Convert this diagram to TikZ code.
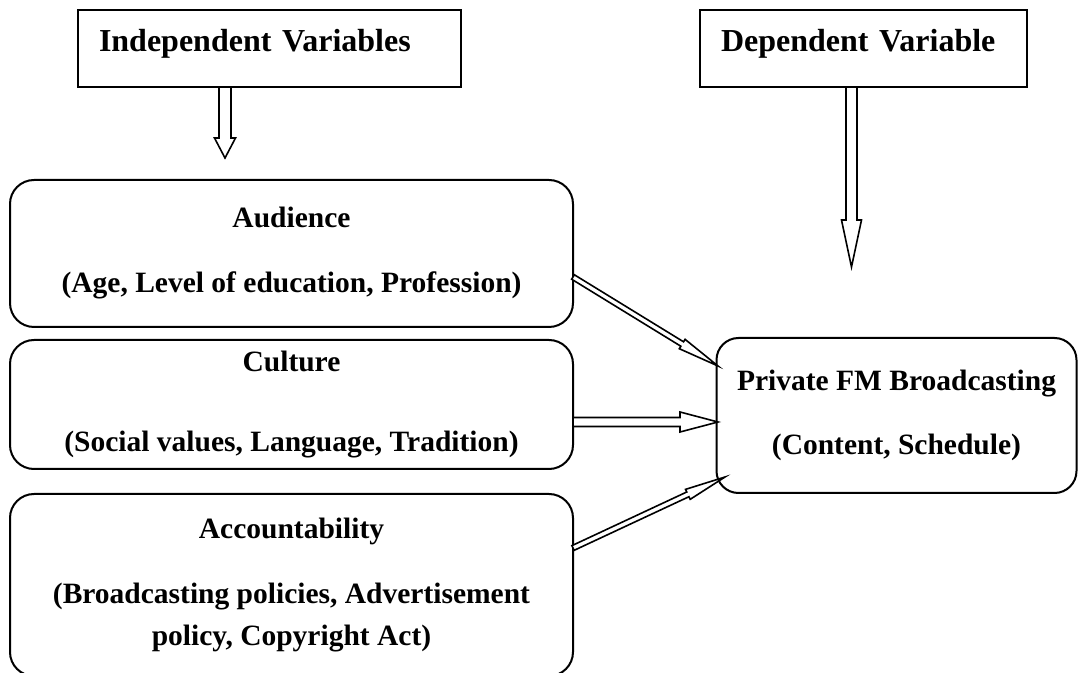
\documentclass[tikz,border=0pt]{standalone}
\usepackage{fontspec}
\setmainfont{Liberation Serif}
\usetikzlibrary{positioning,calc}

\begin{document}
\begin{tikzpicture}[x=0.5pt, y=-0.5pt,
    head/.style = {rectangle, draw, line width=1pt, outer sep=0pt,
      font=\fontsize{16}{19}\selectfont\bfseries, align=left,
      inner xsep=10.5pt, text height=11pt, text depth=7.5pt,
      minimum height=38.5pt}, % the two heading boxes
    factor/.style = {rectangle, draw, line width=1pt, rounded corners=12pt,
      outer sep=0pt, font=\fontsize{14.75}{21}\selectfont\bfseries,
      align=center, minimum width=281.5pt}, % rounded boxes
    hollow/.style = {draw, fill=white, line width=0.8pt, line join=miter}
  ]
  \useasboundingbox (0,0) rectangle (1083,673);

  \node[head, text width=170.5pt] (iv) at (269.5,48.5) {Independent Variables};
  \node[head, text width=142.5pt, right=119.5pt of iv] (dv) {Dependent Variable};

  \node[factor, minimum height=73.5pt] (aud) at (291.5,253.5)
    {Audience\\[11.5pt](Age, Level of education, Profession)};
  \node[factor, minimum height=64.5pt, below=6.5pt of aud] (cul)
    {Culture\\[19pt](Social values, Language, Tradition)};
  \node[factor, minimum height=91pt, below=12.5pt of cul] (acc)
    {Accountability\\[11.5pt](Broadcasting policies, Advertisement\\policy, Copyright Act)};

  \node[factor, rounded corners=11pt, minimum width=180pt, minimum height=77.5pt]
    (pfm) at (896.5,415.5) {Private FM Broadcasting\\[11pt](Content, Schedule)};

  % ends of the hollow arrows
  \coordinate (ivs) at ([xshift=-22.25pt]iv.south);
  \coordinate (ivt) at ([yshift=-35.5pt]ivs);
  \coordinate (dvs) at ([xshift=-6pt]dv.south);
  \coordinate (dvt) at ([yshift=-90pt]dvs);
  \coordinate (as) at ([yshift=-11.75pt]aud.east);
  \coordinate (ae) at ([xshift=0.75pt,yshift=24.75pt]pfm.west);
  \coordinate (cs) at ([yshift=-8.75pt]cul.east);
  \coordinate (ce) at ([xshift=0.75pt,yshift=-3.25pt]pfm.west);
  \coordinate (ps) at ([yshift=18.5pt]acc.east);
  \coordinate (pe) at ([xshift=4.25pt,yshift=-30.75pt]pfm.west);

  \foreach \a/\b/\sw/\hw/\hl in {ivs/ivt/3pt/5.25pt/10pt,
      dvs/dvt/2.75pt/5pt/23.5pt, as/ae/1.3pt/2.75pt/21pt,
      cs/ce/2.25pt/5pt/19pt, ps/pe/1.3pt/2.75pt/20.5pt} {
    \coordinate (h) at ($(\b)!\hl!(\a)$);
    \draw[hollow] ($(\a)!\sw!90:(\b)$) -- ($(h)!\sw!90:(\b)$)
      -- ($(h)!\hw!90:(\b)$) -- (\b) -- ($(h)!\hw!-90:(\b)$)
      -- ($(h)!\sw!-90:(\b)$) -- ($(\a)!\sw!-90:(\b)$) -- cycle;
  }
\end{tikzpicture}
\end{document}
